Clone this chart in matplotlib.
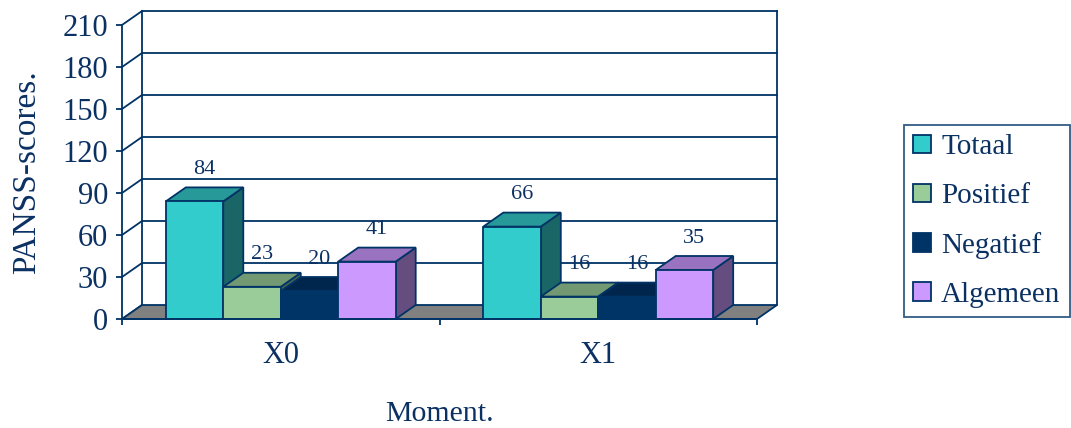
import matplotlib.pyplot as plt
from matplotlib.patches import Polygon, Patch

plt.rcParams['font.family'] = ['Liberation Serif', 'DejaVu Serif']

moments = ["X0", "X1"]
series = ["Totaal", "Positief", "Negatief", "Algemeen"]
values = [[84, 23, 20, 41],
          [66, 16, 16, 35]]
yticks = [0, 30, 60, 90, 120, 150, 180, 210]

navy = '#003366'
txt = '#0B3163'
face = ['#33CCCC', '#99CC99', '#003366', '#CC99FF']
top = ['#289999', '#739973', '#00264D', '#9973BF']
side = ['#1A6666', '#4D664D', '#001A33', '#664D80']

DX = 0.063   # depth offset in category units
DY = 10.0    # depth offset in value units
W = 0.181    # bar width

fig = plt.figure(figsize=(10.71, 4.28), dpi=100)
ax = fig.add_axes([122 / 1071, 109 / 428, 635 / 1071, 294 / 428])
ax.set_xlim(-0.5, 1.5)
ax.set_ylim(0, 210)

lw = 1.3
# back wall + left wall
for v in yticks:
    if v > 0:
        ax.plot([-0.5 + DX, 1.5 + DX], [v + DY, v + DY], color=navy, lw=lw, clip_on=False, zorder=1)
    ax.plot([-0.5, -0.5 + DX], [v, v + DY], color=navy, lw=lw, clip_on=False, zorder=1)
for xe in (-0.5 + DX, 1.5 + DX):
    ax.plot([xe, xe], [DY, 210 + DY], color=navy, lw=lw, clip_on=False, zorder=1)

# floor
floor = Polygon([(-0.5, 0), (1.5, 0), (1.5 + DX, DY), (-0.5 + DX, DY)], closed=True,
                facecolor='#808080', edgecolor=navy, lw=lw, clip_on=False, zorder=2)
ax.add_patch(floor)

z = 3
for c, vals in enumerate(values):
    for i, h in enumerate(vals):
        x0 = c + (i - 2) * W
        x1 = x0 + W
        sd = Polygon([(x1, 0), (x1, h), (x1 + DX, h + DY), (x1 + DX, DY)],
                     facecolor=side[i], edgecolor=navy, lw=lw, zorder=z, clip_on=False)
        tp = Polygon([(x0, h), (x1, h), (x1 + DX, h + DY), (x0 + DX, h + DY)],
                     facecolor=top[i], edgecolor=navy, lw=lw, zorder=z, clip_on=False)
        fr = Polygon([(x0, 0), (x1, 0), (x1, h), (x0, h)],
                     facecolor=face[i], edgecolor=navy, lw=lw, zorder=z + 1, clip_on=False)
        ax.add_patch(sd)
        ax.add_patch(tp)
        ax.add_patch(fr)
        z += 2
        ax.annotate(str(h), xy=(x0 + W / 2 + DX / 2, h + DY), xytext=(0, 6),
                    textcoords='offset points', ha='center', va='bottom',
                    fontsize=16, color=txt, zorder=50)

for s in ('top', 'right'):
    ax.spines[s].set_visible(False)
for s in ('left', 'bottom'):
    ax.spines[s].set_color(navy)
    ax.spines[s].set_linewidth(1.3)
    ax.spines[s].set_zorder(40)

ax.set_yticks(yticks)
ax.tick_params(axis='y', length=4, width=1.3, color=navy, pad=6, labelsize=22, labelcolor=txt)
ax.set_xticks([0, 1])
ax.set_xticklabels(moments)
ax.set_xticks([-0.5, 0.5, 1.5], minor=True)
ax.tick_params(axis='x', which='major', length=0, pad=16, labelsize=22, labelcolor=txt)
ax.tick_params(axis='x', which='minor', length=4, width=1.3, color=navy)

ax.set_xlabel("Moment.", fontsize=21.5, color=txt, labelpad=22)
ax.set_ylabel("PANSS-scores.", fontsize=24, color=txt, labelpad=15)

handles = [Patch(facecolor=face[i], edgecolor=navy, lw=1.3, label=series[i]) for i in range(4)]
leg = fig.legend(handles=handles, loc='upper left', bbox_to_anchor=(904 / 1071, 1 - 125 / 428),
                 fontsize=21, handlelength=0.6, handleheight=0.6, handletextpad=0.35,
                 labelspacing=0.78, borderpad=0.32, borderaxespad=0, fancybox=False, frameon=True)
leg.get_frame().set_edgecolor(navy)
leg.get_frame().set_linewidth(1.3)
for t in leg.get_texts():
    t.set_color(txt)

fig.savefig("out.png", dpi=100)
